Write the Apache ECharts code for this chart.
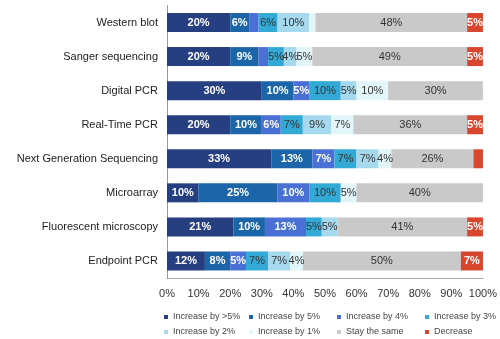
<!DOCTYPE html>
<html><head><meta charset="utf-8">
<script src="https://cdn.jsdelivr.net/npm/echarts@6/dist/echarts.min.js"></script>
<style>html,body{margin:0;padding:0;background:#fff}#c{width:500px;height:339px}</style>
</head><body><div id="c"></div>
<script>
const categories = ['Western blot','Sanger sequencing','Digital PCR','Real-Time PCR','Next Generation Sequencing','Microarray','Fluorescent microscopy','Endpoint PCR'];
const seriesNames = ['Increase by >5%','Increase by 5%','Increase by 4%','Increase by 3%','Increase by 2%','Increase by 1%','Stay the same','Decrease'];
const incOver5 = [20,20,30,20,33,10,21,12];
const inc5 = [6,9,10,10,13,25,10,8];
const inc4 = [3,3,5,6,7,10,13,5];
const inc3 = [6,5,10,7,7,10,5,7];
const inc2 = [10,4,5,9,7,0,5,7];
const inc1 = [2,5,10,7,4,5,0,4];
const same = [48,49,30,36,26,40,41,50];
const decrease = [5,5,0,5,3,0,5,7];
const xTicks = ['0%','10%','20%','30%','40%','50%','60%','70%','80%','90%','100%'];

const values = [incOver5, inc5, inc4, inc3, inc2, inc1, same, decrease];
const colors = ['#263f80','#1c65a8','#4a6fd5','#33a9d6','#a7d9ee','#e2f6f9','#c9c9c9','#d9462f'];
const whiteLabel = [true,true,true,false,false,false,false,true];
const FONT = 'Liberation Sans, Arial, sans-serif';

const series = seriesNames.map((n,i)=>({
  name:n, type:'bar', stack:'all', barWidth:19,
  data: values[i],
  itemStyle:{color:colors[i]},
  label:{show:true, position:'inside', fontFamily:FONT, fontSize:11,
    color: whiteLabel[i] ? '#fff' : '#333',
    fontWeight: whiteLabel[i] ? 'bold' : 'normal',
    formatter: p => p.value >= 4 ? p.value + '%' : ''},
  emphasis:{disabled:true}
}));

const legCols = [164, 249, 337, 425];
const legRows = [312, 327];
const legends = seriesNames.map((n,i)=>({
  data:[n], left:legCols[i%4], top:legRows[Math.floor(i/4)], padding:0,
  itemWidth:4, itemHeight:4, icon:'rect', selectedMode:false,
  textStyle:{fontFamily:FONT, fontSize:9, color:'#444', lineHeight:10}
}));

const chart = echarts.init(document.getElementById('c'), null, {renderer:'canvas'});
chart.setOption({
  animation:false,
  grid:{left:167, right:16, top:5.5, bottom:61, containLabel:false},
  xAxis:{type:'value', min:0, max:100, interval:10,
    axisLabel:{formatter:(v)=>xTicks[Math.round(v/10)], fontFamily:FONT, fontSize:11, color:'#333', margin:10},
    axisLine:{show:true, lineStyle:{color:'#aaa'}}, axisTick:{show:false}, splitLine:{show:false}},
  yAxis:{type:'category', data:categories, inverse:true,
    axisLabel:{fontFamily:FONT, fontSize:11, color:'#222', margin:9},
    axisLine:{show:true, lineStyle:{color:'#999'}}, axisTick:{show:false}},
  legend:legends,
  series:series
});
</script></body></html>
